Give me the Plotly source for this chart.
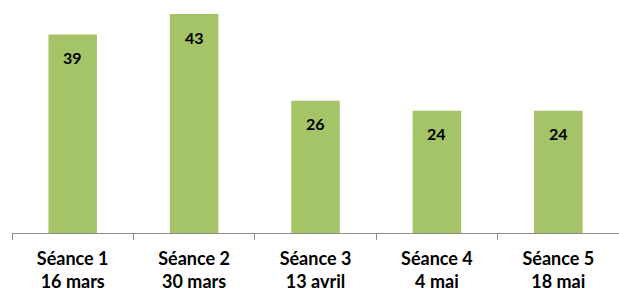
import plotly.graph_objects as go

sessions = ["Séance 1", "Séance 2", "Séance 3", "Séance 4", "Séance 5"]
dates = ["16 mars", "30 mars", "13 avril", "4 mai", "18 mai"]
values = [39, 43, 26, 24, 24]

cats = [f"<b>{s}<br>{d}</b>" for s, d in zip(sessions, dates)]

fig = go.Figure()
fig.add_trace(go.Bar(
    x=cats, y=values, width=0.4,
    marker=dict(color="#A5C367", line=dict(width=0)),
    hoverinfo="skip",
))
for c, v in zip(cats, values):
    fig.add_annotation(x=c, y=v, yshift=-23, text=f"<b>{v}</b>", showarrow=False,
                       font=dict(family="Lato, sans-serif", size=16, color="#000"),
                       xanchor="center", yanchor="middle")

fig.update_layout(
    width=619, height=292,
    margin=dict(l=12, r=0, t=0, b=59, autoexpand=False),
    plot_bgcolor="white", paper_bgcolor="white",
    showlegend=False,
    font=dict(family="Lato, sans-serif", size=18, color="#000"),
)
fig.update_xaxes(
    automargin=False,
    showline=True, linecolor="#8c8c8c", linewidth=1,
    ticks="outside", tickson="boundaries", ticklen=6, tickcolor="#8c8c8c",
    tickfont=dict(family="Lato, sans-serif", size=18, color="#000"),
    ticklabelstandoff=9,
    showgrid=False,
)
fig.update_yaxes(range=[0, 45.77], visible=False, showgrid=False)

fig.write_html("out.html", config={"displayModeBar": False},
               post_script="document.body.style.margin='0';")
